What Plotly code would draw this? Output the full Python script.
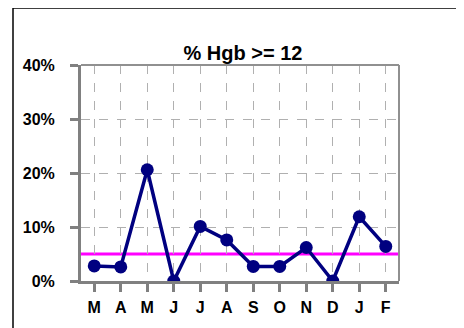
import plotly.graph_objects as go

months = ["M", "A", "M", "J", "J", "A", "S", "O", "N", "D", "J", "F"]
pct_hgb = [0.028, 0.026, 0.206, 0.0, 0.101, 0.076, 0.027, 0.027, 0.062, 0.0, 0.119, 0.064]
target = 0.05
y_ticks = [0, 0.1, 0.2, 0.3, 0.4]

# page body has an 8px margin; figure placed at (8, 8)
OFF = 8
W, H = 464 - OFF, 328 - OFF
L, R, T, B = 81 - OFF, 399 - OFF, 65 - OFF, 285 - OFF
x_ids = list(range(len(months)))

def px_x(px):
    return (px - OFF - L) / (R - L)

def px_y(py):
    return (B - (py - OFF)) / (B - T)

fig = go.Figure()
fig.add_trace(go.Scatter(
    x=x_ids, y=pct_hgb, mode="lines+markers",
    line=dict(color="#000080", width=3.5),
    marker=dict(color="#000080", size=13),
    showlegend=False, hoverinfo="skip",
))

font = dict(family="Liberation Sans, Arial, sans-serif", color="black", weight="bold")

fig.update_layout(
    width=W, height=H,
    margin=dict(l=L, r=W - R, t=T, b=H - B),
    paper_bgcolor="white", plot_bgcolor="white",
    title=dict(text="% Hgb >= 12", x=((L + R) / 2 + 3) / W, xanchor="center",
               y=1 - (53 - OFF) / H, yanchor="middle", font=dict(font, size=20)),
    xaxis=dict(
        range=[-0.5, len(months) - 0.5], tickvals=x_ids, ticktext=months,
        showline=True, linecolor="#808080", linewidth=3,
        ticks="outside", ticklen=8, tickwidth=3, tickcolor="#808080",
        showgrid=True, gridcolor="#b0b0b0", griddash="dash", gridwidth=1,
        tickfont=dict(font, size=16), zeroline=False, fixedrange=True,
        ticklabelstandoff=2,
    ),
    yaxis=dict(
        range=[0, 0.4], tickvals=y_ticks, tickformat=".0%",
        showline=True, linecolor="#808080", linewidth=3,
        ticks="outside", ticklen=8, tickwidth=3, tickcolor="#808080",
        showgrid=True, gridcolor="#b0b0b0", griddash="dash", gridwidth=1,
        tickfont=dict(font, size=16), zeroline=False, ticklabelstandoff=12,
        fixedrange=True,
    ),
    shapes=[
        dict(type="line", xref="paper", yref="y", x0=0, x1=1, y0=target, y1=target,
             line=dict(color="#FF00FF", width=3), layer="below"),
        dict(type="line", xref="paper", yref="paper", x0=0, x1=1, y0=1, y1=1,
             line=dict(color="#909090", width=2)),
        dict(type="line", xref="paper", yref="paper", x0=1, x1=1, y0=0, y1=1,
             line=dict(color="#909090", width=2)),
        dict(type="line", xref="paper", yref="paper", x0=px_x(13), x1=px_x(470),
             y0=px_y(7), y1=px_y(7), line=dict(color="black", width=1.5)),
        dict(type="line", xref="paper", yref="paper", x0=px_x(13), x1=px_x(13),
             y0=px_y(7), y1=px_y(335), line=dict(color="black", width=1.5)),
    ],
)

fig.write_html("out.html")
